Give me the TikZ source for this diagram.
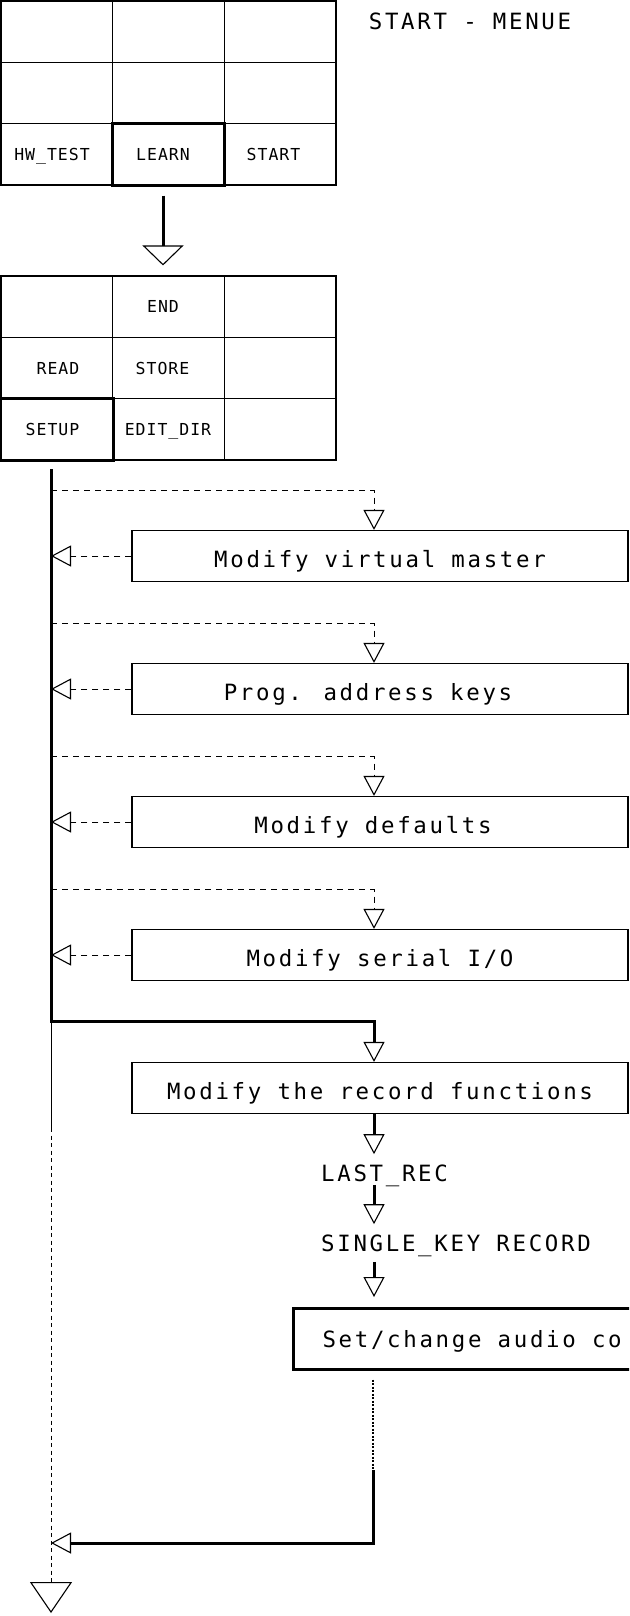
\documentclass[tikz,border=0pt]{standalone}
\usepackage{fontspec}
\usetikzlibrary{arrows.meta}
% plotter-like monospaced lettering
\newfontfamily\plotbig{DejaVu Sans Mono}[LetterSpace=12]
\newfontfamily\plotsmall{DejaVu Sans Mono}[LetterSpace=6]

\tikzset{
  thinln/.style={line width=0.8pt},
  boldln/.style={line width=3pt},
  dashln/.style={line width=1pt, dash pattern=on 6pt off 5pt},
  dashv/.style={line width=1pt, dash pattern=on 4pt off 3.5pt},
  dotln/.style={line width=1.2pt, dash pattern=on 2pt off 1.5pt},
  cell/.style={draw, line width=1.2pt, minimum width=111.7pt, minimum height=61.3pt, inner sep=0pt},
  keycap/.style={font=\plotsmall\fontsize{16.5}{16.5}\selectfont, inner sep=0pt, text height=12pt, text depth=0pt},
  bigtext/.style={font=\plotbig\fontsize{22.4}{22.4}\selectfont, inner xsep=0pt, inner ysep=3pt, text height=16.3pt, text depth=0pt},
  funcbox/.style={draw, line width=1.2pt, minimum width=496pt, minimum height=51pt, inner sep=0pt,
    font=\plotbig\fontsize{22.4}{22.4}\selectfont, text height=22.3pt, text depth=0pt},
  openS/.tip={Triangle[open, length=20pt, width=21pt, line width=1.1pt]},
  openL/.tip={Triangle[open, length=20pt, width=41pt, line width=1.1pt]},
  openB/.tip={Triangle[open, length=31pt, width=42pt, line width=1.1pt]},
}

\begin{document}
\begin{tikzpicture}[x=1pt, y=-1pt]
\useasboundingbox (0,0) rectangle (629,1616);
\fill[white] (0,0) rectangle (629,1616);
\clip (0,0) rectangle (629,1616);

% ---- start menu key grid
\foreach \c/\x in {1/56.8,2/168.5,3/280.2}{
  \foreach \r/\y in {1/31.7,2/93.0,3/154.3}{
    \node[cell] (a\r\c) at (\x,\y) {};
  }
  \foreach \r/\y in {1/306.7,2/368.0,3/429.3}{
    \node[cell] (b\r\c) at (\x,\y) {};
  }
}
\draw[boldln] (a32.north west) rectangle (a32.south east);
\draw[boldln] (b31.north west) rectangle (b31.south east);

\node[keycap] (khw)    at (52,154.3)    {HW\_TEST};
\node[keycap] (klearn) at (163,154.3)   {LEARN};
\node[keycap] (kstart) at (273.5,154.3) {START};
\node[keycap] (kend)   at (163,306.7)   {END};
\node[keycap] (kread)  at (58,368.0)    {READ};
\node[keycap] (kstore) at (162.5,368.0) {STORE};
\node[keycap] (ksetup) at (52.5,429.3)  {SETUP};
\node[keycap] (kedit)  at (168,429.3)   {EDIT\_DIR};

\node[bigtext] (title) at (470,21) {START - MENUE};

% LEARN leads to the learn menu
\draw[boldln, -openL] ([xshift=-5.5pt, yshift=-10pt]a32.south) -- ([xshift=-5.5pt, yshift=10pt]b12.north);

% ---- setup functions
\node[funcbox] (f1) at (380,556)  {Modify virtual master};
\node[funcbox] (f2) at (380,689)  {\hspace*{-24pt}Prog. address keys};
\node[funcbox] (f3) at (380,822)  {\hspace*{-14pt}Modify defaults};
\node[funcbox] (f4) at (380,955)  {Modify serial I/O};
\node[funcbox] (rec) at (380,1088) {Modify the record functions};

\node[bigtext, anchor=west] (lastrec) at (321,1173.5) {LAST\_REC};
\node[bigtext, anchor=west] (single)  at (321,1243.5) {SINGLE\_KEY RECORD};
\node[draw, line width=3pt, anchor=north west, minimum height=61pt, inner ysep=0pt, inner xsep=29pt,
      font=\plotbig\fontsize{22.4}{22.4}\selectfont,
      text height=16.3pt, text depth=0pt] (audio) at (292,1307) {\makebox[380pt][l]{Set/change audio co}};

% main SETUP line
\coordinate (m0) at (51,469);
\coordinate (mc) at (51,1021);
\coordinate (mt) at (51,1128);
\coordinate (exit) at (51,1613);
\foreach \i/\y in {1/490.5, 2/623.5, 3/756.5, 4/889.5}{
  \coordinate (br\i) at (51,\y);
}

\draw[boldln, -openS] (m0) -- (mc) -| ([xshift=-6pt]rec.north);

% optional branches into each function and back
\foreach \i in {1,2,3,4}{
  \draw[dashln, -openS] (br\i) -| ([xshift=-6pt]f\i.north);
  \draw[dashln, -openS] (f\i.west) -- (f\i.west -| m0);
}

% record function chain
\draw[boldln, -openS, shorten >=8pt] ([xshift=-6pt]rec.south) -- ([xshift=-6pt]rec.south |- lastrec.north);
\draw[boldln, -openS, shorten >=8pt] ([xshift=-6pt]rec.south |- lastrec.south) -- ([xshift=-6pt]rec.south |- single.north);
\draw[boldln, -openS, shorten <=7pt, shorten >=10pt] ([xshift=-6pt]rec.south |- single.south) -- ([xshift=-6pt]rec.south |- audio.north);

% return path
\coordinate (r1) at (373,1470);
\coordinate (r2) at (51,1543);
\draw[dotln, shorten <=8.5pt] (audio.south -| r1) -- (r1);
\draw[boldln, -openS] (r1) |- (r2);

% exit
\draw[thinln] (mc) -- (mt);
\draw[dashv, -openB] (mt) -- (exit);
\end{tikzpicture}
\end{document}
